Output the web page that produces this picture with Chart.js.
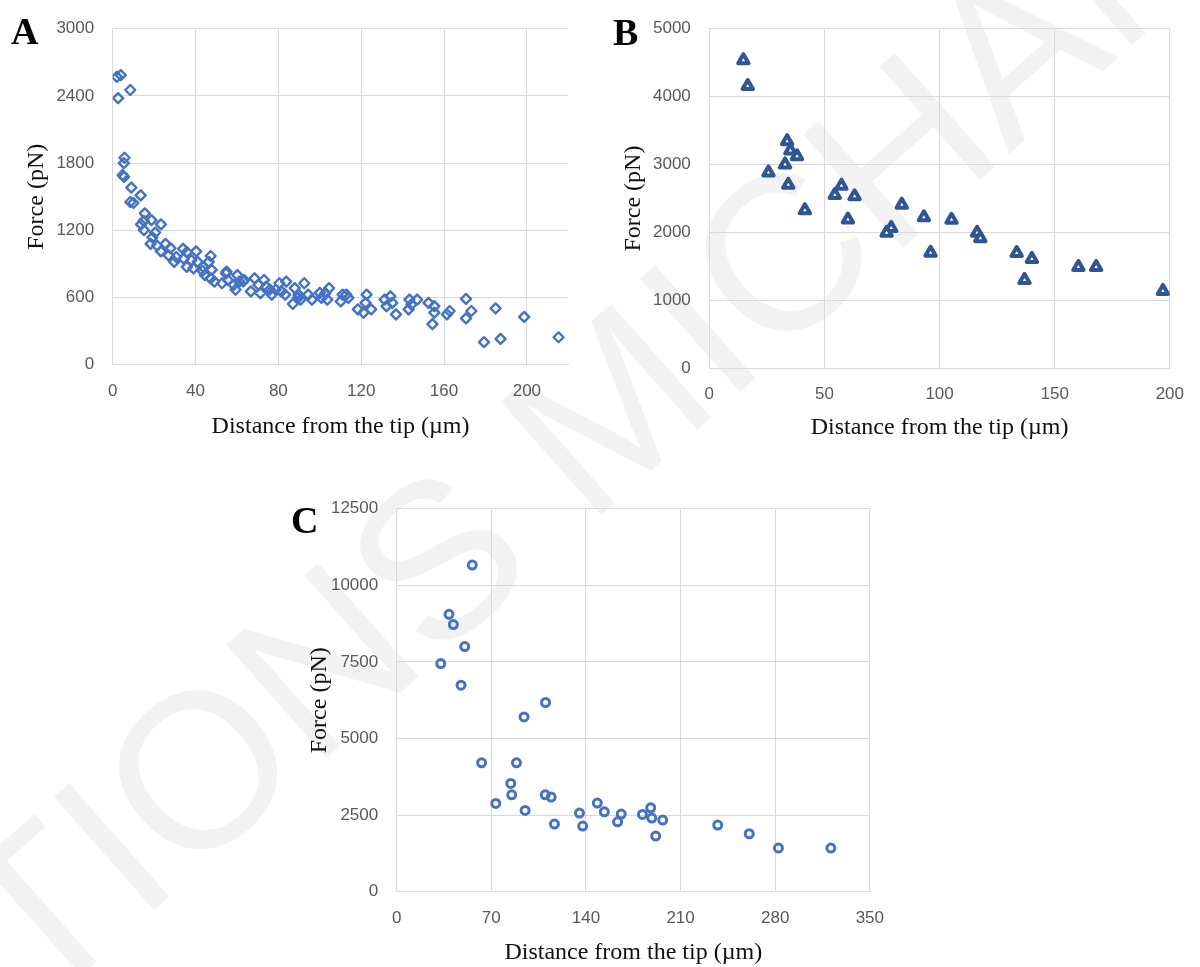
<!DOCTYPE html>
<html><head><meta charset="utf-8">
<script src="https://cdn.jsdelivr.net/npm/chart.js@4"></script>
<style>
html,body{margin:0;padding:0;background:#fff;width:1200px;height:967px;overflow:hidden;position:relative}
.wm{position:absolute;left:-12px;top:846px;font-family:'Liberation Sans',Arial,sans-serif;font-size:220px;line-height:1;color:rgba(0,0,0,0.05);white-space:nowrap;transform-origin:0 50%;transform:rotate(-41.5deg);}
.box{position:absolute}
.lbl{position:absolute;font-family:'Liberation Serif','Times New Roman',serif;font-weight:bold;font-size:38px;color:#000;line-height:1}
</style></head><body>
<div class="wm">TIONS MICHAN</div>
<div class="box" style="left:0;top:0;width:600px;height:450px"><canvas id="cA"></canvas></div>
<div class="box" style="left:600px;top:0;width:600px;height:450px"><canvas id="cB"></canvas></div>
<div class="box" style="left:280px;top:480px;width:620px;height:487px"><canvas id="cC"></canvas></div>
<div class="lbl" style="left:11px;top:11.5px">A</div>
<div class="lbl" style="left:613px;top:13px">B</div>
<div class="lbl" style="left:291px;top:501px">C</div>
<script>
// ---- Panel A data (distance µm, force pN)
const distA = [2.0,3.9,2.6,8.5,5.7,5.4,4.8,5.5,9.0,13.5,8.5,10.0,15.5,15.0,18.7,13.7,15.1,23.3,20.5,19.2,18.3,21.4,23.3,25.5,27.9,27.0,29.7,30.7,34.0,35.8,34.3,35.8,38.0,40.3,41.0,39.0,47.3,46.4,43.6,44.5,47.3,49.1,52.8,54.7,55.6,58.4,60.2,61.1,59.3,63.5,66.7,68.5,70.4,73.1,71.3,74.1,76.8,78.7,80.5,81.4,83.8,83.3,87.0,87.9,89.7,90.7,92.5,94.4,96.2,100.8,102.7,103.6,104.5,110.1,111.0,112.8,113.8,118.4,121.1,122.6,122.1,124.8,131.3,132.2,134.1,135.0,136.8,142.9,143.3,144.2,147.0,152.5,154.4,155.3,155.3,161.4,162.7,170.6,170.6,173.2,179.3,184.9,187.3,198.7,215.3,43.4,55.0,75.9,100.0,47.8,63.0,89.5];
const forceA = [2570,2585,2380,2453,1848,1801,1693,1678,1582,1512,1453,1444,1351,1284,1292,1254,1202,1254,1181,1137,1079,1064,1012,1079,1041,977,918,962,1035,1006,947,874,933,1012,918,860,971,918,874,801,772,743,728,816,757,713,801,743,670,757,655,772,713,757,640,699,626,670,728,655,743,626,544,684,626,582,728,626,582,597,640,582,684,567,626,626,597,494,465,626,553,494,582,523,611,553,450,494,582,538,582,553,363,523,465,450,480,588,415,480,202,503,231,427,246,839,833,672,642,848,745,598];
const xTicksA = [0,40,80,120,160,200];
const yTicksA = [0,600,1200,1800,2400,3000];

// ---- Panel B data
const distB = [14.8,16.7,33.8,35.2,38.1,32.9,25.7,34.3,41.5,57.4,54.5,63.1,60.2,83.6,79.0,77.0,93.2,96.1,105.2,116.3,117.7,133.5,140.1,136.9,160.3,168.0,197.0];
const forceB = [4537,4157,3345,3208,3122,3003,2885,2704,2329,2690,2553,2533,2191,2410,2068,1997,2225,1702,2187,1997,1916,1698,1612,1303,1493,1493,1142];
const xTicksB = [0,50,100,150,200];
const yTicksB = [0,1000,2000,3000,4000,5000];

// ---- Panel C data
const distC = [55.9,38.7,41.9,50.3,32.6,47.6,110.1,94.2,62.8,88.6,84.4,85.1,73.3,95.0,109.9,114.3,116.7,135.2,137.6,148.4,153.6,166.1,163.4,181.8,187.9,188.7,196.8,191.6,237.5,260.8,282.4,321.2];
const forceC = [10662,9055,8719,8002,7448,6741,6177,5707,4208,4208,3537,3165,2885,2656,3165,3090,2210,2568,2145,2894,2611,2536,2285,2526,2741,2406,2340,1819,2177,1894,1428,1428];
const xTicksC = [0,70,140,210,280,350];
const yTicksC = [0,2500,5000,7500,10000,12500];

const TICK_FONT = {family:"'Liberation Sans', Arial, sans-serif", size:17};
const TITLE_FONT = {family:"'Liberation Serif', 'Times New Roman', serif", size:24};
const GRID = '#d9d9d9';

const roundJoin = {id:'roundJoin', beforeDatasetsDraw(chart){ chart.ctx.lineJoin='round'; }};

function pair(xs, ys){ return xs.map((x,i)=>({x:x, y:ys[i]})); }

function makePanel(id, xs, ys, xTicks, yTicks, xMax, yMax, g, pt){
  new Chart(document.getElementById(id), {
    type:'scatter',
    data:{datasets:[{data:pair(xs,ys), pointStyle:pt.style, pointRadius:pt.r, borderWidth:pt.bw,
      pointBorderWidth:pt.bw, borderColor:pt.color, pointBorderColor:pt.color,
      backgroundColor:pt.fill, pointBackgroundColor:pt.fill, pointHoverRadius:pt.r}]},
    options:{
      responsive:true, maintainAspectRatio:false, animation:false, events:[],
      layout:{padding:{left:0, top:g.padTop, right:g.padRight, bottom:0}},
      plugins:{legend:{display:false}, tooltip:{enabled:false}},
      scales:{
        x:{type:'linear', min:0, max:xMax,
          afterBuildTicks:s=>{ s.ticks = xTicks.map(v=>({value:v})); },
          afterFit:s=>{ s.height = g.xH; },
          grid:{color:GRID, lineWidth:1, drawTicks:false},
          border:{color:GRID, width:1},
          ticks:{font:TICK_FONT, color:'#595959', padding:16, maxRotation:0, autoSkip:false, callback:v=>String(v)},
          title:{display:true, text:'Distance from the tip (µm)', font:TITLE_FONT, color:'#111', padding:{top:0,bottom:g.xTitlePad}}
        },
        y:{type:'linear', min:0, max:yMax,
          afterBuildTicks:s=>{ s.ticks = yTicks.map(v=>({value:v})); },
          afterFit:s=>{ s.width = g.yW; },
          grid:{color:GRID, lineWidth:1, drawTicks:false},
          border:{color:GRID, width:1},
          ticks:{font:TICK_FONT, color:'#595959', padding:18.5, autoSkip:false, callback:v=>String(v)},
          title:{display:true, text:'Force (pN)', font:TITLE_FONT, color:'#111', padding:{top:g.yTitlePad,bottom:0}}
        }
      }
    },
    plugins:[roundJoin]
  });
}

makePanel('cA', distA, forceA, xTicksA, yTicksA, 220, 3000,
  {padTop:23.1, padRight:31.7, xH:85.2, yW:112.7, xTitlePad:8.6, yTitlePad:22.1},
  {style:'rectRot', r:5, bw:2.4, color:'#4472C4', fill:'rgba(255,255,255,0)'});
makePanel('cB', distB, forceB, xTicksB, yTicksB, 200, 5000,
  {padTop:17.5, padRight:18.7, xH:81.5, yW:109.3, xTitlePad:7.6, yTitlePad:19.1},
  {style:'triangle', r:6, bw:4, color:'#2F5597', fill:'#ffffff'});
makePanel('cC', distC, forceC, xTicksC, yTicksC, 350, 12500,
  {padTop:28.3, padRight:28, xH:75.2, yW:116.7, xTitlePad:0, yTitlePad:25.6},
  {style:'circle', r:4, bw:3, color:'#4472C4', fill:'rgba(255,255,255,0)'});
</script>
</body></html>
